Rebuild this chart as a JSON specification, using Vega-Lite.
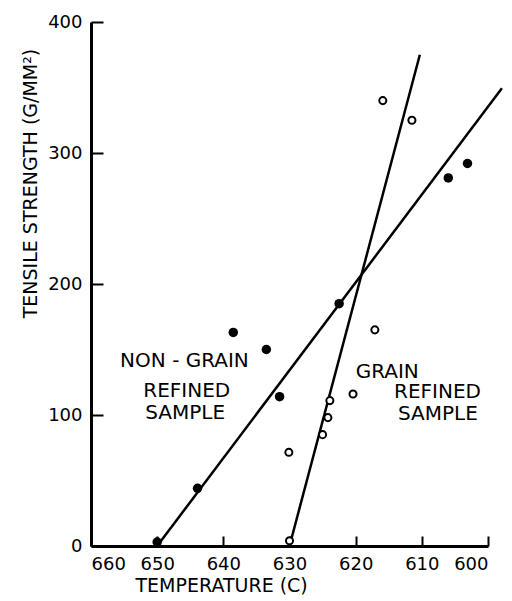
{
  "$schema": "https://vega.github.io/schema/vega-lite/v6.json",
  "width": 397,
  "height": 524,
  "autosize": "none",
  "padding": {"left": 91, "top": 22, "right": 24, "bottom": 55},
  "background": "white",
  "config": {
    "view": {"stroke": null},
    "font": "DejaVu Sans",
    "axis": {"domainColor": "black", "domainWidth": 3, "ticks": false, "grid": true, "gridColor": "black", "gridWidth": 2, "gridOpacity": 1, "labelColor": "black", "titleColor": "black", "labelFont": "DejaVu Sans", "titleFont": "DejaVu Sans", "titleFontWeight": "normal", "labelFontSize": 18, "titleFontSize": 19}
  },
  "datasets": {
    "pts": [
      {"temp": 650, "strength": 3, "sample": "non"},
      {"temp": 643.9, "strength": 44, "sample": "non"},
      {"temp": 638.5, "strength": 163, "sample": "non"},
      {"temp": 633.5, "strength": 150, "sample": "non"},
      {"temp": 631.5, "strength": 114, "sample": "non"},
      {"temp": 622.5, "strength": 185, "sample": "non"},
      {"temp": 606, "strength": 281, "sample": "non"},
      {"temp": 603.1, "strength": 292, "sample": "non"},
      {"temp": 630, "strength": 4, "sample": "grain"},
      {"temp": 630.1, "strength": 71.5, "sample": "grain"},
      {"temp": 625, "strength": 85, "sample": "grain"},
      {"temp": 624.2, "strength": 98, "sample": "grain"},
      {"temp": 623.9, "strength": 111, "sample": "grain"},
      {"temp": 620.4, "strength": 116, "sample": "grain"},
      {"temp": 617.1, "strength": 165, "sample": "grain"},
      {"temp": 615.9, "strength": 340, "sample": "grain"},
      {"temp": 611.5, "strength": 325, "sample": "grain"}
    ],
    "lines": [
      {"temp": 650, "strength": 0, "sample": "non"},
      {"temp": 597.9, "strength": 349.4, "sample": "non"},
      {"temp": 630, "strength": 0, "sample": "grain"},
      {"temp": 610.3, "strength": 375, "sample": "grain"}
    ],
    "labels": [
      {"temp": 655.6, "strength": 141, "text": "NON - GRAIN"},
      {"temp": 652.1, "strength": 118, "text": "REFINED"},
      {"temp": 651.8, "strength": 101.5, "text": "SAMPLE"},
      {"temp": 620, "strength": 133, "text": "GRAIN"},
      {"temp": 614.2, "strength": 117.5, "text": "REFINED"},
      {"temp": 613.6, "strength": 101, "text": "SAMPLE"}
    ]
  },
  "encoding": {
    "x": {"field": "temp", "type": "quantitative",
      "scale": {"domain": [600, 660], "reverse": true, "nice": false, "zero": false},
      "axis": {"values": [660, 650, 640, 630, 620, 610, 600], "gridDash": [0, 514, 10, 2000], "labelPadding": 9, "title": "TEMPERATURE (C)", "titleX": 44, "titleAlign": "left", "titleBaseline": "middle", "titlePadding": 0, "titleY": 39}},
    "y": {"field": "strength", "type": "quantitative",
      "scale": {"domain": [0, 400], "nice": false},
      "axis": {"values": [0, 100, 200, 300, 400], "gridDash": [0, 385, 12, 2000], "labelPadding": 9, "title": "TENSILE STRENGTH      (G/MM²)", "titleX": -61, "titleY": 161, "titleAlign": "center", "titleBaseline": "middle", "titleAngle": -90}}
  },
  "layer": [
    {"data": {"name": "lines"}, "mark": {"type": "line", "color": "black", "strokeWidth": 2.5, "clip": false}, "encoding": {"detail": {"field": "sample"}}},
    {"data": {"name": "pts"}, "transform": [{"filter": "datum.sample === 'non'"}], "mark": {"type": "point", "shape": "circle", "filled": true, "color": "black", "size": 90, "opacity": 1}},
    {"data": {"name": "pts"}, "transform": [{"filter": "datum.sample === 'grain'"}], "mark": {"type": "point", "shape": "circle", "filled": true, "fill": "white", "stroke": "black", "strokeWidth": 2, "size": 50, "opacity": 1}},
    {"data": {"name": "labels"}, "mark": {"type": "text", "align": "left", "baseline": "middle", "fontSize": 20, "color": "black", "font": "DejaVu Sans"}, "encoding": {"text": {"field": "text"}}}
  ]
}
